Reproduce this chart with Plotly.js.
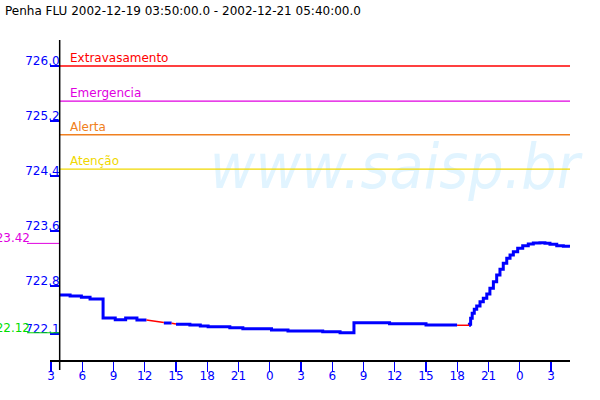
<!DOCTYPE html>
<html>
<head>
<meta charset="utf-8">
<script src="https://cdn.plot.ly/plotly-3.0.1.min.js"></script>
<style>html,body{margin:0;padding:0;background:#fff;}#chart{width:600px;height:400px;}</style>
</head>
<body>
<div id="chart"></div>
<script>
// ---- data ----
const chartTitle = 'Penha FLU 2002-12-19 03:50:00.0 - 2002-12-21 05:40:00.0';
const rangeStart = '2002-12-19 02:54:15';
const rangeEnd = '2002-12-21 04:49:20';
const seriesStart = '2002-12-19 03:50';

// level readings (step-like), null marks a stretch drawn in red instead
const levelTime = [
  '2002-12-19 03:50','2002-12-19 04:50','2002-12-19 05:55','2002-12-19 06:45','2002-12-19 08:00',
  '2002-12-19 09:10','2002-12-19 10:10','2002-12-19 11:15','2002-12-19 12:10', null,
  '2002-12-19 13:50','2002-12-19 14:35', null,
  '2002-12-19 15:00','2002-12-19 16:20','2002-12-19 17:20','2002-12-19 18:05','2002-12-19 20:10',
  '2002-12-19 21:25','2002-12-20 00:10','2002-12-20 01:45','2002-12-20 05:05','2002-12-20 06:45',
  '2002-12-20 08:05','2002-12-20 11:30','2002-12-20 15:00','2002-12-20 17:59', null,
  '2002-12-20 19:08','2002-12-20 19:10','2002-12-20 19:17','2002-12-20 19:26','2002-12-20 19:38',
  '2002-12-20 19:52','2002-12-20 20:11','2002-12-20 20:30','2002-12-20 20:50','2002-12-20 21:08',
  '2002-12-20 21:28','2002-12-20 21:47','2002-12-20 22:06','2002-12-20 22:25','2002-12-20 22:45',
  '2002-12-20 23:04','2002-12-20 23:23','2002-12-20 23:48','2002-12-21 00:17','2002-12-21 00:49',
  '2002-12-21 01:18','2002-12-21 01:56','2002-12-21 02:25','2002-12-21 02:54','2002-12-21 03:33',
  '2002-12-21 04:11','2002-12-21 04:49'
];
const levelValue = [
  722.669,722.655,722.636,722.611,722.335,
  722.310,722.335,722.305,722.305,null,
  722.262,722.262,null,
  722.243,722.233,722.218,722.208,722.193,
  722.179,722.160,722.146,722.135,722.120,
  722.266,722.252,722.233,722.233,null,
  722.229,722.243,722.330,722.403,722.461,
  722.509,722.572,722.621,722.684,722.767,
  722.863,722.960,723.043,723.130,723.203,
  723.251,723.299,723.348,723.386,723.411,
  723.425,723.430,723.421,723.406,723.386,
  723.377,723.372
];
// stretches shown in red
const redTime = [
  '2002-12-19 12:10','2002-12-19 13:00','2002-12-19 13:50', null,
  '2002-12-19 14:35','2002-12-19 15:00', null,
  '2002-12-20 17:59','2002-12-20 19:08'
];
const redValue = [
  722.305,722.290,722.270, null,
  722.258,722.246, null,
  722.229,722.229
];

// alarm thresholds
const thresholdNames = ['Extravasamento','Emergencia','Alerta','Atenção'];
const thresholdValues = [726.0, 725.49, 725.0, 724.5];
const thresholdColors = ['#ff0000','#e000e0','#f08020','#f0d800'];

// reference marks left of the axis
const refLabels = ['723.42','722.12'];
const refValues = [723.42, 722.12];
const refColors = ['#e000e0','#00dd00'];

// axes
const yTickVals = [722.1, 722.8, 723.6, 724.4, 725.2, 726.0];
const yTickText = ['722.1','722.8','723.6','724.4','725.2','726.0'];
const yRange = [721.724, 726.378];

const watermarkText = 'www.saisp.br';
const watermarkAt = ['2002-12-20 12:00', 724.45];

// ---- build ----
const FONT = 'DejaVu Sans, Verdana, sans-serif';
const traces = [];
traces.push({
  x: [watermarkAt[0]], y: [watermarkAt[1]], mode: 'text', text: [watermarkText],
  textfont: {family: 'DejaVu Sans Condensed, DejaVu Sans, sans-serif', size: 62, color: 'rgb(225,244,255)', style: 'italic'},
  textposition: 'middle center', hoverinfo: 'skip', cliponaxis: false
});
thresholdValues.forEach((v, i) => {
  traces.push({
    x: [seriesStart, rangeEnd], y: [v, v], mode: 'lines',
    line: {color: thresholdColors[i], width: 1.3}, hoverinfo: 'skip'
  });
});
traces.push({
  x: levelTime, y: levelValue, mode: 'lines', connectgaps: false,
  line: {color: '#0000ff', width: 3, shape: 'hv'}
});
traces.push({
  x: redTime, y: redValue, mode: 'lines', connectgaps: false,
  line: {color: '#ff0000', width: 1.5}
});

const W = 520; // plot width in px (l=50, r=30)
const px = p => (p - 50) / W;

const annotations = thresholdNames.map((n, i) => ({
  x: seriesStart, y: thresholdValues[i], xref: 'x', yref: 'y',
  text: n, showarrow: false, xanchor: 'left', yanchor: 'bottom',
  xshift: 8, yshift: -1, font: {family: FONT, size: 12, color: thresholdColors[i]}
}));
refLabels.forEach((t, i) => {
  annotations.push({
    x: px(32), y: refValues[i], xref: 'paper', yref: 'y', text: t, showarrow: false,
    xanchor: 'right', yanchor: 'bottom', yshift: -4,
    font: {family: FONT, size: 12, color: refColors[i]}
  });
});

const shapes = refValues.map((v, i) => ({
  type: 'line', xref: 'paper', yref: 'y', x0: px(27), x1: px(60), y0: v, y1: v,
  line: {color: refColors[i], width: 1}
}));
// y axis line extended below the x axis
shapes.push({type: 'line', xref: 'x', yref: 'paper', x0: seriesStart, x1: seriesStart,
  y0: -10/320, y1: 1, line: {color: '#000', width: 1.5}});

const layout = {
  width: 600, height: 400,
  margin: {l: 50, r: 30, t: 40, b: 40},
  paper_bgcolor: '#fff', plot_bgcolor: '#fff',
  showlegend: false,
  title: {text: chartTitle, x: 5/600, xanchor: 'left', xref: 'container', y: 1 - 11/400, yanchor: 'middle',
          font: {family: FONT, size: 12, color: '#000'}},
  xaxis: {
    type: 'date', range: [rangeStart, rangeEnd], showgrid: false, zeroline: false,
    showline: true, linecolor: '#000', linewidth: 1.5,
    ticks: 'outside', ticklen: 10, tickcolor: '#0000ff', tickwidth: 1.3,
    tick0: '2002-12-19 00:00', dtick: 3*3600*1000, tickformat: '%-H',
    ticklabelstandoff: -6,
    tickfont: {family: FONT, size: 12, color: '#0000ff'}
  },
  yaxis: {
    range: yRange, anchor: 'free', position: px(60), showgrid: false, zeroline: false,
    showline: false,
    ticks: 'outside', ticklen: 10, tickcolor: '#0000ff', tickwidth: 1.3,
    tickvals: yTickVals, ticktext: yTickText,
    ticklabelstandoff: -12, ticklabelshift: -5,
    tickfont: {family: FONT, size: 12, color: '#0000ff'}
  },
  annotations: annotations,
  shapes: shapes
};

Plotly.newPlot('chart', traces, layout, {staticPlot: true, displayModeBar: false});
</script>
</body>
</html>
